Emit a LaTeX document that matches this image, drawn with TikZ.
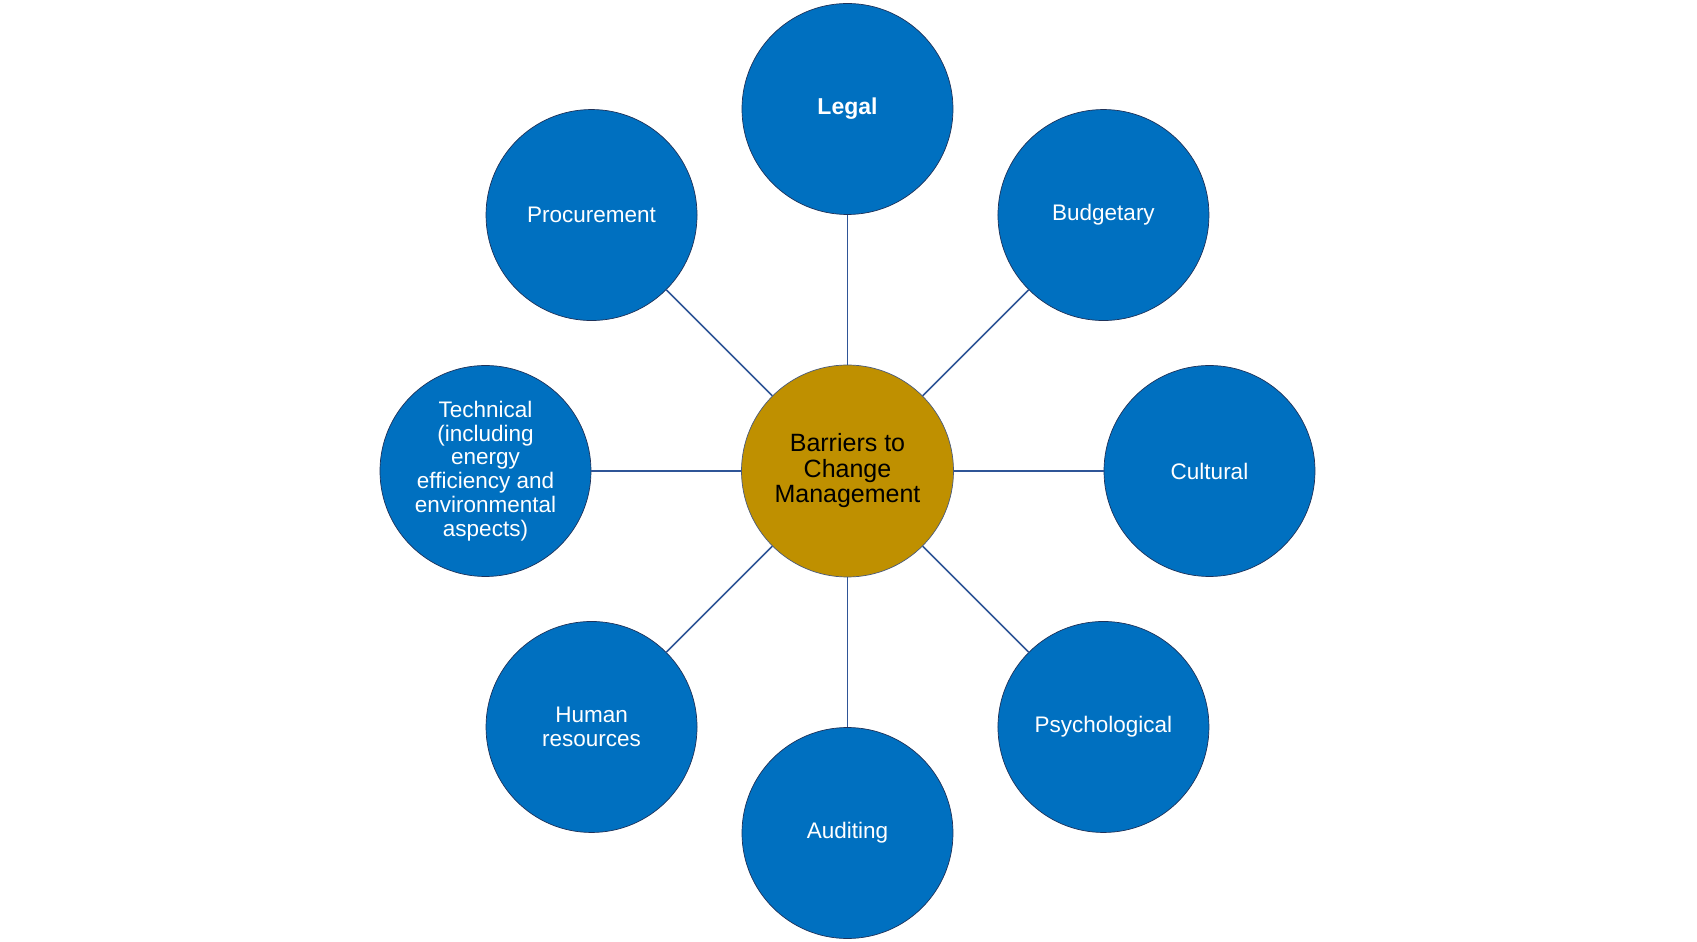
\documentclass[tikz,border=0pt]{standalone}
\usepackage{fontspec}
\setmainfont{Liberation Sans}
\usepackage{tikz}
\usetikzlibrary{positioning}
\usepackage{xcolor}
\definecolor{barblue}{RGB}{0,112,192}
\definecolor{bargold}{RGB}{191,144,0}
\definecolor{barline}{RGB}{47,85,151}
\definecolor{baredge}{RGB}{30,50,90}

\begin{document}
\begin{tikzpicture}[x=1pt, y=1pt,
  hub/.style={circle, draw=baredge!80, line width=0.7pt, fill=bargold,
              minimum size=212pt, inner sep=0pt, align=center, text=black,
              font=\fontsize{25}{25.5}\selectfont},
  petal/.style={circle, draw=baredge, line width=0.7pt, fill=barblue,
                minimum size=211pt, inner sep=0pt, align=center, text=white,
                font=\fontsize{22.5}{23.8}\selectfont},
  spoke/.style={draw=barline, line width=1.6pt}
]
\useasboundingbox (-847.5,-471) rectangle (849.5,471);
\node[hub] (barriers) at (0,0) {Barriers to\\Change\\Management};
\node[petal, font=\fontsize{23}{24}\selectfont\bfseries] (legal) at (90:362) {Legal};
\node[petal] (budget)  at (45:362)  {Budgetary};
\node[petal] (culture) at (0:362)   {Cultural};
\node[petal] (psych)   at (-45:362) {Psychological};
\node[petal] (audit)   at (-90:362) {Auditing};
\node[petal] (human)   at (-135:362) {Human\\resources};
\node[petal] (tech)    at (180:362) {Technical\\(including\\energy\\efficiency and\\environmental\\aspects)};
\node[petal] (procure) at (135:362) {Procurement};
\draw[spoke] (barriers) -- (legal);
\draw[spoke] (barriers) -- (budget);
\draw[spoke] (barriers) -- (culture);
\draw[spoke] (barriers) -- (psych);
\draw[spoke] (barriers) -- (audit);
\draw[spoke] (barriers) -- (human);
\draw[spoke] (barriers) -- (tech);
\draw[spoke] (barriers) -- (procure);
\end{tikzpicture}
\end{document}
